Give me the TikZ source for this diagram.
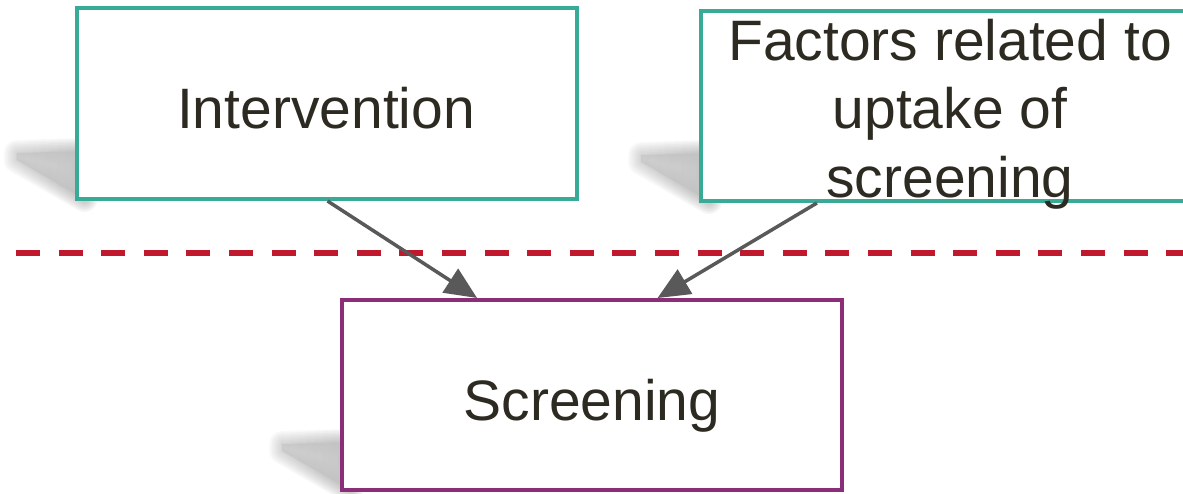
\documentclass[tikz,border=0pt]{standalone}
\usepackage{fontspec}
\setmainfont{Liberation Sans}
\usetikzlibrary{calc,arrows.meta,fadings}
\definecolor{boxteal}{RGB}{56,170,150}
\definecolor{boxpurple}{RGB}{140,45,120}
\definecolor{dashred}{RGB}{192,24,45}
\definecolor{arrowgray}{RGB}{89,89,89}
\definecolor{txtcol}{RGB}{45,42,34}
\definecolor{shadowcol}{RGB}{150,150,150}
\tikzfading[name=shadowfade, left color=transparent!45, right color=transparent!0]
\newcommand{\castshadow}[1]{%
  \foreach \w in {2,5,8,11,14,17,20,23,26}{%
    \begin{scope}[transparency group, opacity=0.09]
    \filldraw[shadowcol, line width=\w pt, line join=round, path fading=shadowfade]
      ($(#1)+(-60,-46)$) -- ($(#1)+(8,-48)$) -- ($(#1)+(8,0)$) -- ($(#1)+(-60,-39)$) -- cycle;
    \end{scope}
  }%
}
\begin{document}
\begin{tikzpicture}[x=1pt,y=-1pt,
  boxstyle/.style={draw, line width=4pt, fill=white, minimum width=500pt, minimum height=191pt, inner sep=0pt},
  labelstyle/.style={text=txtcol, font=\fontsize{57}{68.5}\selectfont, inner sep=0pt, align=center},
  conn/.style={draw=arrowgray, line width=3.5pt, -{Triangle[length=32pt,width=28pt]}},
  divider/.style={draw=dashred, line width=6pt, dash pattern=on 24pt off 18.6pt}
]
\useasboundingbox (0,0) rectangle (1183,493);
\clip (0,0) rectangle (1183,493);
% shadows
\coordinate (intbl) at (76.5,199);
\coordinate (facbl) at (701,201);
\coordinate (scrbl) at (342,490);
\castshadow{intbl}
\castshadow{facbl}
\castshadow{scrbl}
% boxes
\node[boxstyle, draw=boxteal, minimum height=191pt] (int) at (326.5,103.5) {};
\node[boxstyle, draw=boxteal, minimum height=190pt] (fac) at (951,106) {};
\node[boxstyle, draw=boxpurple, minimum height=190pt] (scr) at (592,395) {};
% labels
\node[labelstyle, anchor=base] (intlabel) at (326,128) {Intervention};
\node[labelstyle] (faclabel) at (950,114) {Factors related to\\uptake of\\screening};
\node[labelstyle, anchor=base] (scrlabel) at (592,420) {Screening};
% divider
\draw[divider] (16,253) -- (1190,253);
% connectors
\draw[conn] ($(int.south west)!0.502!(int.south east)$) -- ($(scr.north west)!0.272!(scr.north east)$);
\draw[conn] ($(fac.south west)!0.234!(fac.south east)$) -- ($(scr.north west)!0.63!(scr.north east)$);
\end{tikzpicture}
\end{document}
